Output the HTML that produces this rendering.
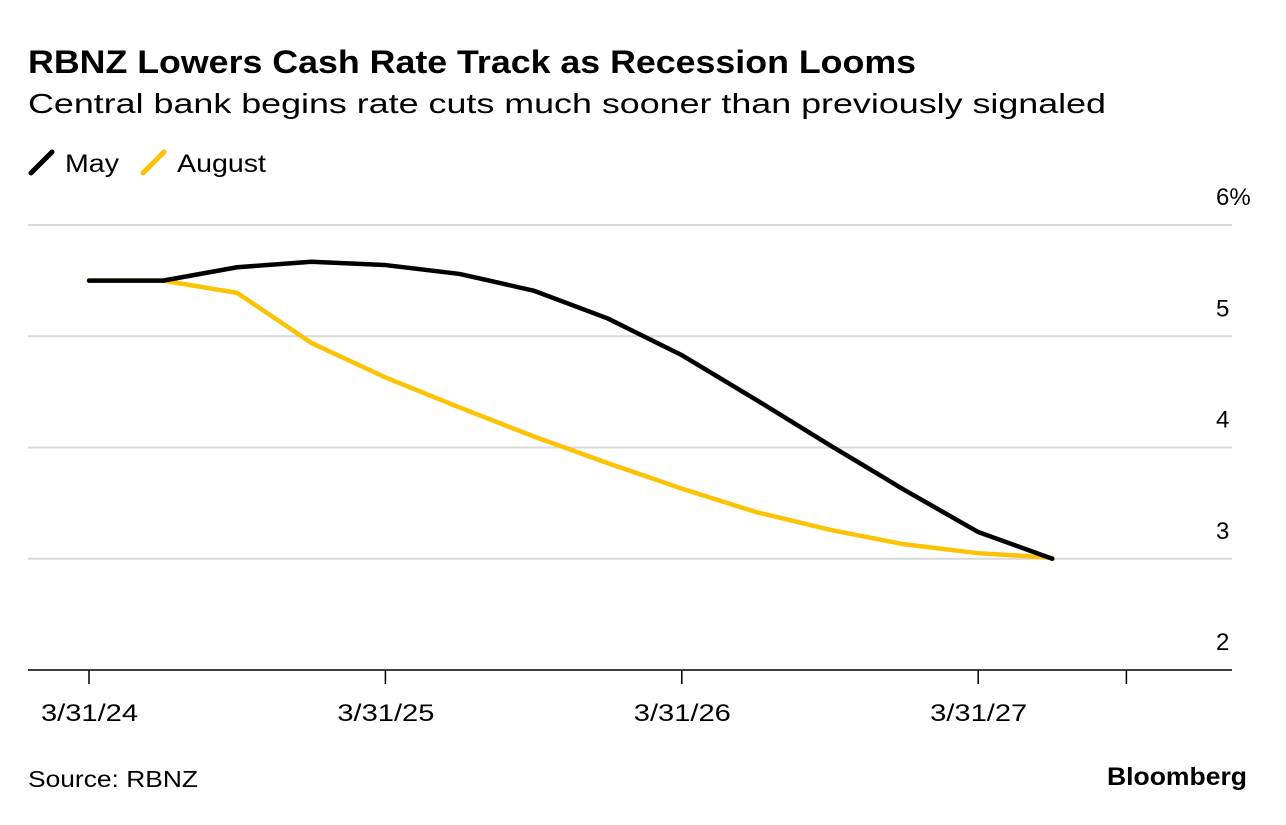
<!DOCTYPE html>
<html><head><meta charset="utf-8">
<style>
body{margin:0;background:#fff;width:1286px;height:820px;overflow:hidden;font-family:"Liberation Sans",sans-serif;}
svg text{font-family:"Liberation Sans",sans-serif;}
</style></head>
<body>
<svg width="1286" height="820">
<text x="28" y="73" font-size="32" font-weight="bold" fill="#000" textLength="888" lengthAdjust="spacingAndGlyphs">RBNZ Lowers Cash Rate Track as Recession Looms</text>
<text x="28" y="113" font-size="28" fill="#000" textLength="1078" lengthAdjust="spacingAndGlyphs">Central bank begins rate cuts much sooner than previously signaled</text>
<g>
<g>
<line x1="31" y1="173" x2="52" y2="152" stroke="#000" stroke-width="5" stroke-linecap="round"/>
<text x="65" y="172" font-size="25" textLength="54" lengthAdjust="spacingAndGlyphs">May</text></g>
<g>
<line x1="143" y1="173" x2="164" y2="152" stroke="#fcc203" stroke-width="5" stroke-linecap="round"/>
<text x="177" y="172" font-size="25" textLength="89" lengthAdjust="spacingAndGlyphs">August</text></g>
</g>
<g id="grid"></g>
<g id="ylabels"></g>
<g id="xaxis"></g>
<g id="series"></g>
<text x="28" y="787" font-size="23" fill="#000" textLength="170" lengthAdjust="spacingAndGlyphs">Source: RBNZ</text>
<text x="1107" y="785" font-size="25" font-weight="bold" fill="#000" textLength="140" lengthAdjust="spacingAndGlyphs">Bloomberg</text>
</svg>
<script>
const quarters = [0,1,2,3,4,5,6,7,8,9,10,11,12,13];
const mayRates = [5.5,5.5,5.62,5.67,5.64,5.56,5.41,5.16,4.83,4.43,4.02,3.62,3.24,3.0];
const augustRates = [5.5,5.5,5.39,4.94,4.63,4.36,4.10,3.86,3.63,3.42,3.26,3.13,3.05,3.01];
const yTicks = [2,3,4,5,6];
const yTickLabels = ["2","3","4","5","6%"];
const xTickQuarters = [0,4,8,12,14];
const xTickLabels = ["3/31/24","3/31/25","3/31/26","3/31/27",""];

const NS="http://www.w3.org/2000/svg";
const x = q => 89 + q*74.1;
const y = v => 670 - (v-2)*111.25;
function mk(tag, attrs, parent){const e=document.createElementNS(NS,tag);for(const k in attrs)e.setAttribute(k,attrs[k]);parent.appendChild(e);return e;}
const grid=document.getElementById('grid'), yl=document.getElementById('ylabels'), xa=document.getElementById('xaxis'), se=document.getElementById('series');
yTicks.forEach((v,i)=>{
  if(v>2){const l=mk('line',{x1:28,x2:1232,y1:y(v),y2:y(v),stroke:'#d9d9d9','stroke-width':2},grid);
  
  }
  const t=mk('text',{x:1216,y:y(v)-20,'font-size':24,fill:'#000'},yl);
  t.textContent=yTickLabels[i];
  
  
});
const base=mk('line',{x1:28,x2:1232,y1:670,y2:670,stroke:'#000','stroke-width':1.5},xa);


xTickQuarters.forEach((q,i)=>{
  const tk=mk('line',{x1:x(q),x2:x(q),y1:670,y2:684,stroke:'#000','stroke-width':1.5},xa);
  
  
  if(xTickLabels[i]){const t=mk('text',{x:x(q)-48,y:721,'font-size':24,fill:'#000',textLength:97,lengthAdjust:'spacingAndGlyphs'},xa);
  t.textContent=xTickLabels[i];
  
  }
});
function line(vals,color,name){
  const p=mk('polyline',{points:vals.map((v,i)=>x(quarters[i])+','+y(v)).join(' '),fill:'none',stroke:color,'stroke-width':4.5,'stroke-linejoin':'round','stroke-linecap':'round'},se);
  
  
}
line(augustRates,'#fcc203','august-line');
line(mayRates,'#000','may-line');
</script>
</body></html>
